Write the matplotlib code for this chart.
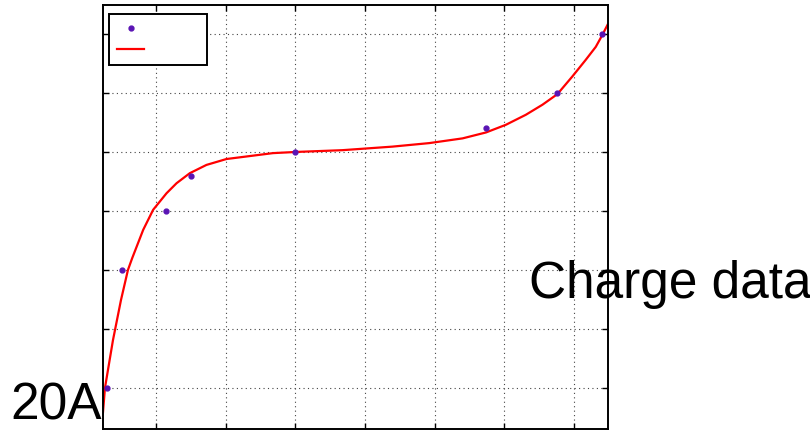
import numpy as np
import matplotlib
matplotlib.use("Agg")
import matplotlib.pyplot as plt

# measured charge points (time in min, cell voltage in V)
t_data = [3.0, 5.1, 11.4, 15.0, 30.0, 57.4, 67.6, 74.0]
v_data = [3.30, 3.50, 3.60, 3.66, 3.70, 3.74, 3.80, 3.90]

# fitted curve
t_fit = [2.41, 2.69, 3.84, 4.99, 5.99, 6.60, 8.18, 9.61, 11.53, 12.97, 14.87,
         17.26, 20.13, 23.47, 26.81, 30.16, 36.79, 43.95, 49.26, 54.03, 57.38,
         60.24, 63.11, 65.49, 67.64, 69.79, 71.70, 73.14, 74.08, 74.9]
v_fit = [3.259, 3.300, 3.381, 3.449, 3.500, 3.520, 3.568, 3.602, 3.630, 3.647,
         3.664, 3.678, 3.688, 3.693, 3.698, 3.700, 3.703, 3.709, 3.715, 3.723,
         3.733, 3.746, 3.763, 3.780, 3.798, 3.828, 3.856, 3.878, 3.898, 3.917]

t_ticks = [10, 20, 30, 40, 50, 60, 70]
v_ticks = [3.3, 3.4, 3.5, 3.6, 3.7, 3.8, 3.9]

fig = plt.figure(figsize=(8.1, 4.32), dpi=100)
ax = fig.add_axes([103 / 810, 3 / 432, 505 / 810, 424 / 432])

ax.plot(t_data, v_data, linestyle='none', marker='o', markersize=3.5,
        color='#5a14b4', label=' ' * 10, zorder=3)
ax.plot(t_fit, v_fit, color='#ff0000', linewidth=1.6, label=' ' * 10, zorder=2)

ax.set_xlim(t_fit[0], t_fit[-1])
ax.set_ylim(3.2305, 3.949)
ax.set_xticks(t_ticks)
ax.set_yticks(v_ticks)
ax.set_xticklabels([])
ax.set_yticklabels([])
ax.tick_params(direction='in', length=4, width=1, top=True, right=True,
               bottom=True, left=True)
ax.grid(True, color='#444444', linestyle=(0, (1, 3)), linewidth=0.8)
for s in ax.spines.values():
    s.set_linewidth(1.4)
    s.set_zorder(4)

leg = ax.legend(loc='upper left', bbox_to_anchor=(6 / 505, 1 - 9 / 424),
                borderaxespad=0, fontsize=10, handlelength=2,
                borderpad=0.55, labelspacing=0.55, fancybox=False,
                framealpha=1, edgecolor='black')
leg.get_frame().set_linewidth(1.4)

fig.text(102 / 810, 1 / 432, '20A', ha='right', va='bottom',
         fontsize=37, family='Liberation Sans')
fig.text(529 / 810, (432 - 298) / 432, 'Charge data', ha='left', va='baseline',
         fontsize=37, family='Liberation Sans')

fig.savefig('out.png', dpi=100)
